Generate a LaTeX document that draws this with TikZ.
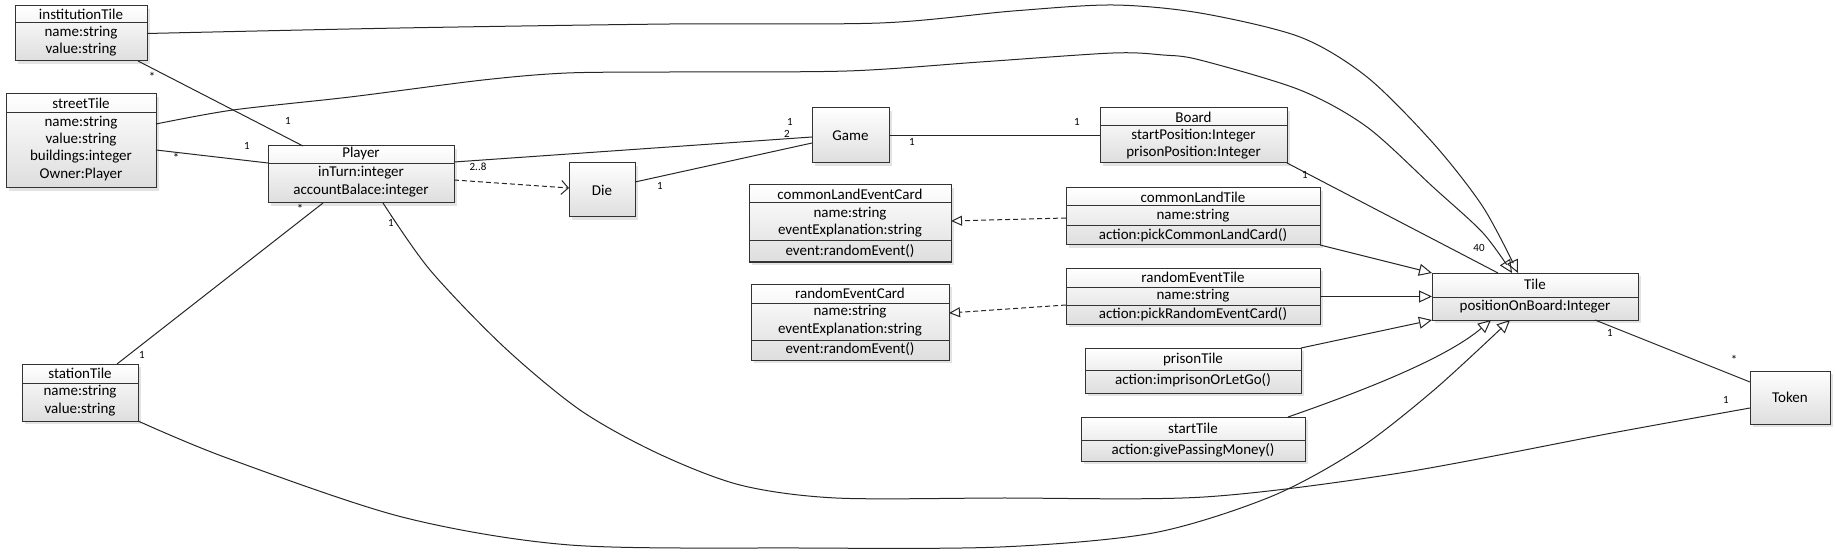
\documentclass[tikz,border=0pt]{standalone}
\usepackage{fontspec}
\setmainfont{Carlito}
\usetikzlibrary{arrows.meta,shadows}
\newcommand\clsfont{\fontsize{15}{17}\selectfont}
\newcommand\lblfont{\fontsize{11}{12}\selectfont}
\tikzset{
 cls/.style={draw=black!80, line width=1pt, top color=white, bottom color=black!13,
   drop shadow={opacity=0.22, shadow xshift=3pt, shadow yshift=-3pt},
   inner sep=0pt, outer sep=0pt},
 txt/.style={font=\clsfont, inner sep=0pt},
 lbl/.style={font=\lblfont, inner sep=0pt},
 star/.style={font=\fontsize{13}{13}\selectfont, inner sep=0pt},
 sepline/.style={draw=black!80, line width=1pt},
 assoc/.style={draw=black!85, line width=1pt},
 gen/.style={assoc, -{Triangle[open, length=13pt, width=12pt]}},
 dep/.style={assoc, dash pattern=on 5pt off 3pt, -{Straight Barb[length=7pt, width=14pt]}},
 real/.style={assoc, dash pattern=on 5pt off 3pt, -{Triangle[open, length=11pt, width=10pt]}},
}
\begin{document}
\begin{tikzpicture}[x=1pt, y=-1pt]
\useasboundingbox (0,0) rectangle (1835,553);

% ---------- classes ----------
\node[cls, minimum width=132pt, minimum height=55pt] (inst) at (81,33.5) {};
\draw[sepline] (inst.west |- 0,23) -- (inst.east |- 0,23);
\node[txt] at (81,14) {institutionTile};
\node[txt] at (81,33) {name:string};
\node[txt] at (81,50) {value:string};

\node[cls, minimum width=150pt, minimum height=94pt] (street) at (81,141) {};
\draw[sepline] (street.west |- 0,113) -- (street.east |- 0,113);
\node[txt] at (81,103) {streetTile};
\node[txt] at (81,123) {name:string};
\node[txt] at (81,140) {value:string};
\node[txt] at (81,157) {buildings:integer};
\node[txt] at (81,175) {Owner:Player};

\node[cls, minimum width=186pt, minimum height=57pt] (player) at (361,174.5) {};
\draw[sepline] (player.west |- 0,164) -- (player.east |- 0,164);
\node[txt] at (361,154) {Player};
\node[txt] at (361,173) {inTurn:integer};
\node[txt] at (361,191) {accountBalace:integer};

\node[cls, minimum width=66pt, minimum height=54pt] (die) at (602,190) {};
\node[txt] at (die.center) {Die};

\node[cls, minimum width=77pt, minimum height=55pt] (game) at (850.5,135.5) {};
\node[txt] at (game.center) {Game};

\node[cls, minimum width=187pt, minimum height=55pt] (board) at (1193.5,135.5) {};
\draw[sepline] (board.west |- 0,126) -- (board.east |- 0,126);
\node[txt] at (1193.5,117) {Board};
\node[txt] at (1193.5,136) {startPosition:Integer};
\node[txt] at (1193.5,153) {prisonPosition:Integer};

\node[cls, minimum width=202pt, minimum height=77pt] (cleCard) at (850,223.5) {};
\draw[sepline] (cleCard.west |- 0,203) -- (cleCard.east |- 0,203);
\draw[sepline] (cleCard.west |- 0,241) -- (cleCard.east |- 0,241);
\node[txt] at (850,194) {commonLandEventCard};
\node[txt] at (850,214) {name:string};
\node[txt] at (850,231) {eventExplanation:string};
\node[txt] at (850,251) {event:randomEvent()};

\node[cls, minimum width=254pt, minimum height=57pt] (clTile) at (1193,216.5) {};
\draw[sepline] (clTile.west |- 0,206) -- (clTile.east |- 0,206);
\draw[sepline] (clTile.west |- 0,226) -- (clTile.east |- 0,226);
\node[txt] at (1193,197) {commonLandTile};
\node[txt] at (1193,216) {name:string};
\node[txt] at (1193,235) {action:pickCommonLandCard()};

\node[cls, minimum width=198pt, minimum height=76pt] (reCard) at (850,322) {};
\draw[sepline] (reCard.west |- 0,303) -- (reCard.east |- 0,303);
\draw[sepline] (reCard.west |- 0,340) -- (reCard.east |- 0,340);
\node[txt] at (850,293) {randomEventCard};
\node[txt] at (850,312) {name:string};
\node[txt] at (850,330) {eventExplanation:string};
\node[txt] at (850,349) {event:randomEvent()};

\node[cls, minimum width=254pt, minimum height=56pt] (reTile) at (1193,296) {};
\draw[sepline] (reTile.west |- 0,287) -- (reTile.east |- 0,287);
\draw[sepline] (reTile.west |- 0,305) -- (reTile.east |- 0,305);
\node[txt] at (1193,277) {randomEventTile};
\node[txt] at (1193,296) {name:string};
\node[txt] at (1193,314) {action:pickRandomEventCard()};

\node[cls, minimum width=216pt, minimum height=45pt] (prison) at (1193,370.5) {};
\draw[sepline] (prison.west |- 0,370) -- (prison.east |- 0,370);
\node[txt] at (1193,359) {prisonTile};
\node[txt] at (1193,380) {action:imprisonOrLetGo()};

\node[cls, minimum width=224pt, minimum height=44pt] (start) at (1193,439) {};
\draw[sepline] (start.west |- 0,440) -- (start.east |- 0,440);
\node[txt] at (1193,428) {startTile};
\node[txt] at (1193,450) {action:givePassingMoney()};

\node[cls, minimum width=206pt, minimum height=47pt] (tile) at (1535,296.5) {};
\draw[sepline] (tile.west |- 0,297) -- (tile.east |- 0,297);
\node[txt] at (1535,284) {Tile};
\node[txt] at (1535,307) {positionOnBoard:Integer};

\node[cls, minimum width=80pt, minimum height=53pt] (token) at (1790,397.5) {};
\node[txt] at (token.center) {Token};

\node[cls, minimum width=116pt, minimum height=57pt] (station) at (80,392.5) {};
\draw[sepline] (station.west |- 0,383) -- (station.east |- 0,383);
\node[txt] at (80,373) {stationTile};
\node[txt] at (80,392) {name:string};
\node[txt] at (80,410) {value:string};

% ---------- connectors ----------
\draw[gen] plot[smooth, tension=0.5] coordinates {(inst.east) (400,28) (670,24) (880,23) (1013,11) (1113,5) (1200,13) (1300,37) (1367,77) (1433,143) (1483,207) (1518,0 |- tile.north)};
\draw[gen] plot[smooth, tension=0.5] coordinates {(street.east |- 0,124) (233,110) (350,97) (483,80) (567,73) (670,72) (847,71) (980,62) (1113,53) (1163,55) (1200,60) (1300,90) (1367,127) (1433,187) (1483,233) (1512,0 |- tile.north)};
\draw[gen] plot[smooth, tension=0.5] coordinates {(station.south east) (227,458) (402,517) (570,545) (800,548) (1000,547) (1153,533) (1270,497) (1357,450) (1434,390) (1510,0 |- tile.south)};
\draw[gen] (1288,0 |- start.north) .. controls (1380,385) and (1450,355) .. (1491,0 |- tile.south);
\draw[gen] (clTile.south east) -- (tile.north west);
\draw[gen] (reTile.east |- tile.west) -- (tile.west);
\draw[gen] (prison.north east) -- (tile.south west);

\draw[assoc] plot[smooth, tension=0.5] coordinates {(383,0 |- player.south) (430,270) (504,347) (580,410) (657,453) (740,485) (836,498) (1000,498) (1204,497) (1400,473) (1612,433) (token.west |- 0,408)};
\draw[assoc] (1595,0 |- tile.south) -- (token.west |- 0,382);
\draw[assoc] (board.south east) -- (1498,0 |- tile.north);
\draw[assoc] (117,0 |- station.north) -- (323,0 |- player.south);
\draw[assoc] (138,0 |- inst.south) -- (303,0 |- player.north);
\draw[assoc] (street.east |- 0,150) -- (player.west |- 0,163);
\draw[assoc] (player.east |- 0,162) -- (game.west |- 0,137);
\draw[assoc] (die.east |- 0,182) -- (game.west |- 0,143);
\draw[assoc] (game.east) -- (board.west |- game.east);

\draw[dep] (player.east |- 0,180) -- (die.west |- 0,188);
\draw[real] (clTile.west |- 0,218) -- (cleCard.east |- 0,221);
\draw[real] (reTile.west |- 0,305) -- (reCard.east |- 0,313);

% ---------- multiplicities ----------
\node[star] (m1) at (152,77) {*};
\node[lbl] (m2) at (288,121) {1};
\node[star] (m3) at (176,158) {*};
\node[lbl] (m4) at (247,146) {1};
\node[lbl] (m5) at (478,167) {2..8};
\node[lbl] (m6) at (660,186) {1};
\node[lbl] (m7) at (790,122) {1};
\node[lbl] (m8) at (787,134) {2};
\node[lbl] (m9) at (912,142) {1};
\node[lbl] (m10) at (1077,122) {1};
\node[lbl] (m11) at (1305,175) {1};
\node[lbl] (m12) at (1479,248) {40};
\node[lbl] (m13) at (1610,333) {1};
\node[star] (m14) at (1734,360) {*};
\node[lbl] (m15) at (1726,400) {1};
\node[lbl] (m16) at (391,223) {1};
\node[star] (m17) at (300,209) {*};
\node[lbl] (m18) at (142,355) {1};
\end{tikzpicture}
\end{document}
